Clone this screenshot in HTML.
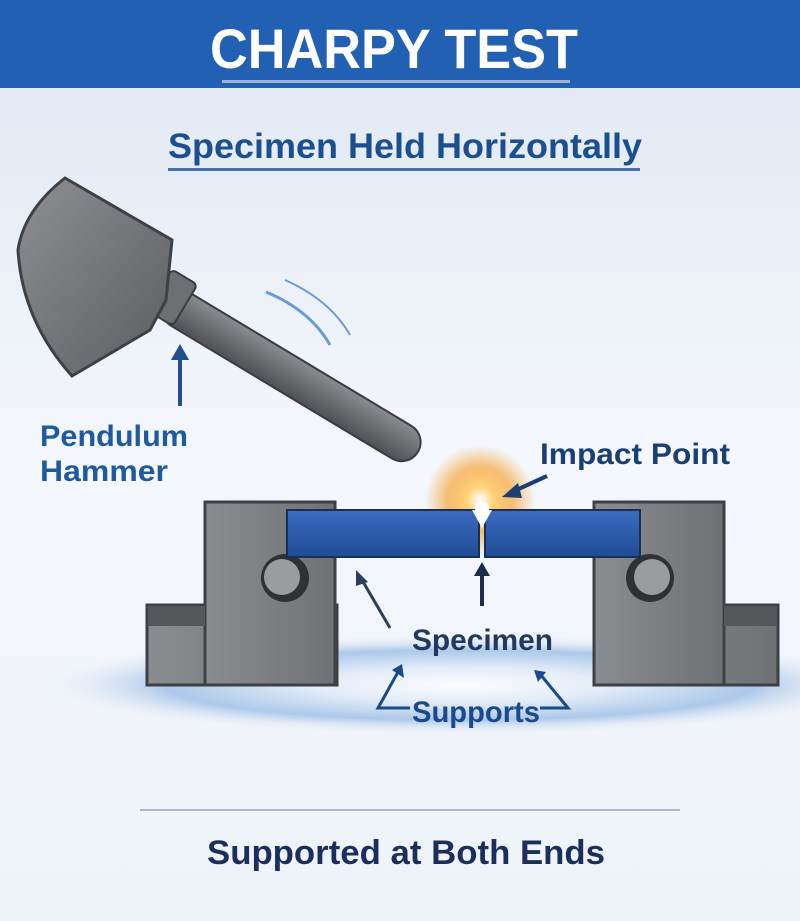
<!DOCTYPE html>
<html><head><meta charset="utf-8"><style>
body{margin:0;width:800px;height:921px;overflow:hidden;background:#eef2f9}
svg{display:block}
text{font-family:"Liberation Sans",sans-serif;font-weight:bold}
</style></head><body>
<svg width="800" height="921" viewBox="0 0 800 921">
<defs>
<linearGradient id="bg" x1="0" y1="0" x2="0" y2="1">
<stop offset="0" stop-color="#dfe7f3"/><stop offset="0.5" stop-color="#f4f7fc"/><stop offset="1" stop-color="#eef2f9"/></linearGradient>
<radialGradient id="floor" cx="0.5" cy="0.5" r="0.5">
<stop offset="0" stop-color="#ffffff"/><stop offset="0.35" stop-color="#dce8f6"/><stop offset="0.7" stop-color="#8fb5e2"/><stop offset="1" stop-color="#e8eef7" stop-opacity="0"/></radialGradient>
<radialGradient id="glow" cx="0.5" cy="0.5" r="0.5">
<stop offset="0" stop-color="#fff"/><stop offset="0.25" stop-color="#ffd27a"/><stop offset="0.6" stop-color="#f5a53a" stop-opacity="0.7"/><stop offset="1" stop-color="#f5a53a" stop-opacity="0"/></radialGradient>
<linearGradient id="metal" x1="0" y1="0" x2="1" y2="1">
<stop offset="0" stop-color="#8d8f93"/><stop offset="1" stop-color="#5b5d61"/></linearGradient>
<linearGradient id="block" x1="0" y1="0" x2="1" y2="0">
<stop offset="0" stop-color="#8a8c90"/><stop offset="1" stop-color="#6f7175"/></linearGradient>
<linearGradient id="bar" x1="0" y1="0" x2="0" y2="1">
<stop offset="0" stop-color="#3b6cc0"/><stop offset="1" stop-color="#214c95"/></linearGradient>
<linearGradient id="handle" x1="0" y1="0" x2="0" y2="1">
<stop offset="0" stop-color="#8a8c90"/><stop offset="1" stop-color="#4e5054"/></linearGradient>
</defs>
<rect width="800" height="921" fill="url(#bg)"/>
<rect width="800" height="88" fill="#2160b2"/>
<text x="210" y="68" font-size="56" fill="#fff" textLength="368" lengthAdjust="spacingAndGlyphs">CHARPY TEST</text>
<rect x="222" y="80" width="348" height="3" fill="#9cb3d6"/>
<text x="168" y="158" font-size="35" fill="#1b4f90" textLength="474" lengthAdjust="spacingAndGlyphs">Specimen Held Horizontally</text>
<rect x="168" y="168" width="472" height="3" fill="#4a6fa6"/>

<ellipse cx="460" cy="685" rx="420" ry="50" fill="url(#floor)" opacity="0.7"/>

<!-- hammer handle -->
<g transform="translate(165,300) rotate(31)">
<rect x="0" y="-19" width="295" height="38" rx="19" fill="url(#handle)" stroke="#3a3c40" stroke-width="2"/>
</g>
<g transform="translate(168,295) rotate(31)"><rect x="-10" y="-24" width="30" height="48" rx="5" fill="#6d6f73" stroke="#3a3c40" stroke-width="2"/></g>
<!-- hammer head -->
<path d="M65,178 L172,240 L166,300 L150,330 L72,376 Q22,320 18,250 Q24,210 65,178 Z" fill="url(#metal)" stroke="#3e4044" stroke-width="3"/>
<!-- motion lines -->
<path d="M266,292 Q310,310 330,345" stroke="#6c9ad4" stroke-width="3" fill="none"/>
<path d="M285,280 Q330,300 350,335" stroke="#6c9ad4" stroke-width="2" fill="none"/>

<!-- pendulum label -->
<line x1="180" y1="406" x2="180" y2="352" stroke="#1f4f8f" stroke-width="4"/>
<path d="M171,360 L180,344 L189,360 Z" fill="#1f4f8f"/>
<text x="40" y="446" font-size="30" fill="#1f5aa0" textLength="148" lengthAdjust="spacingAndGlyphs">Pendulum</text>
<text x="40" y="481" font-size="30" fill="#1f5aa0" textLength="128" lengthAdjust="spacingAndGlyphs">Hammer</text>

<!-- glow -->
<circle cx="480" cy="500" r="55" fill="url(#glow)"/>

<!-- left block -->
<rect x="147" y="605" width="190" height="80" fill="url(#block)" stroke="#3e4044" stroke-width="3"/>
<rect x="205" y="502" width="130" height="183" fill="url(#block)" stroke="#3e4044" stroke-width="3"/>
<rect x="148" y="606" width="57" height="20" fill="#55575b"/>
<!-- right block -->
<rect x="594" y="605" width="184" height="80" fill="url(#block)" stroke="#3e4044" stroke-width="3"/>
<rect x="594" y="502" width="130" height="183" fill="url(#block)" stroke="#3e4044" stroke-width="3"/>
<rect x="724" y="606" width="53" height="20" fill="#55575b"/>
<!-- rollers -->
<circle cx="285" cy="578" r="24" fill="#2f3134"/>
<circle cx="282" cy="577" r="18" fill="#9a9ca0"/>
<circle cx="650" cy="578" r="24" fill="#2f3134"/>
<circle cx="652" cy="577" r="18" fill="#9a9ca0"/>
<!-- specimen bar -->
<rect x="287" y="510" width="192" height="47" fill="url(#bar)" stroke="#1a2f55" stroke-width="2"/>
<rect x="485" y="510" width="155" height="47" fill="url(#bar)" stroke="#1a2f55" stroke-width="2"/>
<path d="M472,510 L482,528 L492,510 Z" fill="#fff"/>
<circle cx="482" cy="508" r="7" fill="#fff"/>

<!-- impact point -->
<text x="540" y="464" font-size="30" fill="#1b3f74" textLength="190" lengthAdjust="spacingAndGlyphs">Impact Point</text>
<line x1="547" y1="476" x2="512" y2="492" stroke="#1b3f74" stroke-width="4"/>
<path d="M502,497 L518,483 L522,498 Z" fill="#1b3f74"/>

<!-- specimen arrows -->
<line x1="390" y1="628" x2="362" y2="580" stroke="#2c3e5a" stroke-width="3"/>
<path d="M356,570 L368,582 L356,586 Z" fill="#2c3e5a"/>
<line x1="482" y1="606" x2="482" y2="572" stroke="#1b2d4a" stroke-width="4"/>
<path d="M474,576 L482,562 L490,576 Z" fill="#1b2d4a"/>
<text x="412" y="650" font-size="30" fill="#23385e" textLength="141" lengthAdjust="spacingAndGlyphs">Specimen</text>

<!-- supports -->
<polyline points="410,708 378,708 398,672" fill="none" stroke="#1b4a8a" stroke-width="3"/>
<path d="M392,670 L402,664 L404,678 Z" fill="#1b4a8a"/>
<polyline points="540,708 568,708 540,674" fill="none" stroke="#1b4a8a" stroke-width="3"/>
<path d="M534,670 L546,672 L538,682 Z" fill="#1b4a8a"/>
<text x="412" y="722" font-size="30" fill="#1b4a8a" textLength="128" lengthAdjust="spacingAndGlyphs">Supports</text>

<rect x="140" y="809" width="540" height="2" fill="#a9b7cc"/>
<text x="207" y="864" font-size="34" fill="#1c2f5c" textLength="398" lengthAdjust="spacingAndGlyphs">Supported at Both Ends</text>
</svg>
</body></html>
